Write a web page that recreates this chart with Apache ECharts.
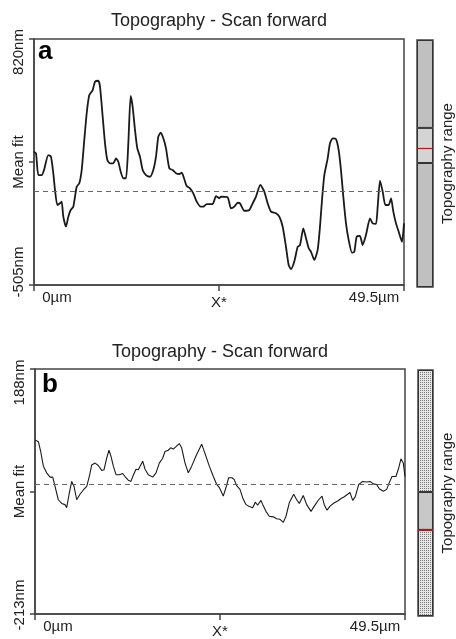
<!DOCTYPE html>
<html>
<head>
<meta charset="utf-8">
<script src="https://cdn.jsdelivr.net/npm/echarts@6/dist/echarts.min.js"></script>
<style>html,body{margin:0;padding:0;background:#fff}#c{width:456px;height:639px}</style>
</head>
<body>
<div id="c"></div>
<script>
// ---- data ----
const chartTitle = 'Topography - Scan forward';
const panelLetters = ['a', 'b'];
const rangeTitle = 'Topography range';
const xTickValues = [0, 24.75, 49.5];
const xTickLabels = ['0µm', 'X*', '49.5µm'];
const topTickValues = [-505, 157.5, 820];
const topTickLabels = ['-505nm', 'Mean fit', '820nm'];
const bottomTickValues = [-213, -12.5, 188];
const bottomTickLabels = ['-213nm', 'Mean fit', '188nm'];
const meanFit = 0;

const topPositions = [0,0.27,0.58,1.03,1.34,1.91,2.27,2.58,2.81,3.12,3.48,3.70,3.92,4.28,4.59,4.91,5.26,5.71,6.06,6.38,6.69,7.05,7.40,7.85,8.16,8.60,8.83,9.19,9.50,9.81,10.17,10.61,10.97,11.28,11.60,11.95,12.31,12.62,12.93,13.20,13.51,13.82,14.18,14.54,14.98,15.52,15.96,16.32,16.63,16.95,17.30,17.66,18.10,18.55,19.00,19.44,19.76,20.07,20.43,20.87,21.31,21.77,22.30,22.66,23.10,23.90,24.35,24.79,25.02,25.91,26.35,26.80,27.25,27.56,28.14,28.81,29.26,29.70,30.28,30.81,31.26,31.71,32.37,32.82,33.27,33.71,34.07,34.38,34.82,35.28,35.59,36.03,36.39,36.75,37.06,37.50,37.95,38.26,38.53,38.84,39.29,39.60,39.96,40.40,40.76,41.07,41.38,41.74,42.10,42.54,42.85,43.17,43.61,43.97,44.41,44.95,45.31,45.75,45.98,46.29,46.65,47.00,47.45,47.77,48.07,48.43,48.79,49.23,49.5];
const topHeights = [213,204,87,87,114,195,186,97,7,-74,-65,-56,-137,-191,-137,-101,-83,24,43,114,258,420,518,545,590,595,563,401,258,168,150,150,177,159,105,70,70,258,513,455,330,231,186,114,87,78,114,186,294,315,285,231,124,114,97,93,100,70,28,16,-11,-56,-83,-83,-69,-69,-26,-38,-29,-33,-92,-83,-62,-65,-105,-101,-65,-29,34,-2,-65,-110,-119,-137,-191,-299,-397,-420,-379,-299,-290,-200,-253,-307,-326,-370,-316,-191,-47,87,177,258,285,281,222,114,-29,-173,-263,-331,-326,-245,-241,-290,-236,-146,-173,-176,-83,57,-2,-74,-74,-38,-110,-173,-218,-272,-173];

const bottomPositions = [0,0.45,0.76,1.12,1.56,2.01,2.37,2.68,3.12,3.57,4.01,4.24,4.59,4.91,5.22,5.58,6.02,6.46,6.92,7.26,7.59,8.03,8.47,8.92,9.23,9.59,9.90,10.17,10.48,10.84,11.28,11.73,12.04,12.48,12.84,13.15,13.51,13.82,14.41,14.72,15.16,15.75,16.19,16.63,17.08,17.39,17.83,18.15,18.50,18.86,19.30,19.62,20.07,20.51,20.96,21.63,22.30,22.74,23.32,23.86,24.31,24.66,24.88,25.19,25.55,25.91,26.35,26.66,26.98,27.42,27.79,28.23,28.67,29.12,29.47,29.79,30.23,30.54,30.90,31.34,31.88,32.33,32.78,33.22,33.58,34.02,34.61,35.01,35.36,35.89,36.35,36.92,37.50,37.95,38.40,38.70,39.06,39.51,40.04,40.50,40.94,41.38,41.83,42.14,42.50,42.85,43.31,43.84,44.38,44.82,45.26,45.71,46.06,46.60,47.05,47.40,47.76,48.29,48.66,48.96,49.27,49.5];
const bottomHeights = [72,69,53,29,18,11,11,-4,-26,-32,-34,-39,-15,4,-4,-26,-17,-10,-4,12,31,34,30,22,23,42,55,45,29,15,15,17,12,6,4,14,24,23,37,24,15,11,18,34,42,53,55,59,57,61,66,59,34,18,29,48,65,50,29,12,-1,-6,-9,-20,-6,10,10,7,-3,-9,-23,-34,-37,-39,-30,-35,-27,-36,-45,-53,-54,-57,-58,-63,-53,-31,-17,-26,-32,-19,-34,-45,-34,-26,-20,-34,-43,-36,-31,-28,-24,-21,-17,-14,-27,-21,-1,4,3,4,0,-1,-8,-12,-9,2,12,12,26,41,34,12];

// range indicator segments (percent of full range, bottom to top)
const topRangeSegments = [50.2, 14.2, 35.6];
const topRangeMarker = 56.3;
const bottomRangeSegments = [35, 15.4, 49.6];
const bottomRangeMarker = 35;

// ---- chart ----
const FONT = "'Liberation Sans', Arial, sans-serif";
const zip = (a, b) => a.map((v, i) => [v, b[i]]);
const pick = (vals, labs) => v => { const i = vals.findIndex(t => Math.abs(t - v) < 1e-6); return i < 0 ? '' : labs[i]; };

const pat = document.createElement('canvas');
pat.width = 2; pat.height = 2;
const pc = pat.getContext('2d');
pc.fillStyle = '#e6e6e6'; pc.fillRect(0, 0, 2, 2);
pc.fillStyle = '#7a7a7a'; pc.fillRect(0, 0, 1, 1);
const dotted = { image: pat, repeat: 'repeat' };

function yLabelFmt(vals, labs) {
  const f = pick(vals, labs);
  return v => {
    const t = f(v);
    if (Math.abs(v - vals[0]) < 1e-6) return '{lo|' + t + '}';
    if (Math.abs(v - vals[2]) < 1e-6) return '{hi|' + t + '}';
    return '{mid|' + t + '}';
  };
}
function xLabelFmt(v) {
  const t = pick(xTickValues, xTickLabels)(v);
  if (Math.abs(v - xTickValues[0]) < 1e-6) return '{l|' + t + '}';
  if (Math.abs(v - xTickValues[2]) < 1e-6) return '{r|' + t + '}';
  return '{m|' + t + '}';
}
const txt = { fontFamily: FONT, fontSize: 15, color: '#222' };
const axisCol = '#444';

function mainX(gi) {
  return {
    type: 'value', gridIndex: gi, min: 0, max: 49.5,
    axisLine: { show: true, onZero: false, lineStyle: { color: axisCol, width: 1.5 } },
    axisTick: { show: true, customValues: xTickValues, length: 6, lineStyle: { color: axisCol, width: 1.5 } },
    axisLabel: {
      show: true, customValues: xTickValues, margin: 5, formatter: xLabelFmt,
      rich: {
        l: Object.assign({}, txt, { padding: [0, 0, 0, 46] }),
        r: Object.assign({}, txt, { padding: [0, 60, 0, 0] }),
        m: Object.assign({}, txt, { padding: [5, 0, 0, 0] })
      }
    },
    splitLine: { show: false }
  };
}
function mainY(gi, min, max, vals, labs, padHi, padLo) {
  return {
    type: 'value', gridIndex: gi, min: min, max: max,
    axisLine: { show: true, onZero: false, lineStyle: { color: axisCol, width: 1.5 } },
    axisTick: { show: true, customValues: vals, length: 5, lineStyle: { color: axisCol, width: 1.5 } },
    axisLabel: {
      show: true, customValues: vals, rotate: 90, margin: 8, formatter: yLabelFmt(vals, labs),
      rich: {
        hi: Object.assign({}, txt, { padding: [0, padHi, 0, 0] }),
        lo: Object.assign({}, txt, { padding: [0, 0, 0, padLo] }),
        mid: Object.assign({}, txt)
      }
    },
    splitLine: { show: false }
  };
}
function rangeY(gi) {
  return {
    type: 'value', gridIndex: gi, min: 0, max: 100, position: 'right',
    name: rangeTitle, nameLocation: 'middle', nameGap: 7,
    nameTextStyle: { fontFamily: FONT, fontSize: 15, color: '#222' },
    axisLine: { show: false }, axisTick: { show: false }, axisLabel: { show: false }, splitLine: { show: false }
  };
}
function rangeX(gi) {
  return { type: 'category', gridIndex: gi, data: ['r'], show: false };
}
function seg(gi, val, color, marker) {
  const s = {
    type: 'bar', xAxisIndex: gi, yAxisIndex: gi, stack: 'r' + gi, data: [val],
    barWidth: '100%', silent: true,
    itemStyle: { color: color, borderColor: '#333', borderWidth: 1 }
  };
  if (marker != null) {
    s.markLine = { silent: true, symbol: 'none', label: { show: false },
      lineStyle: { color: '#e00000', width: 1.2, type: 'solid' }, data: [{ yAxis: marker }] };
  }
  return s;
}
const meanLine = {
  silent: true, symbol: 'none', label: { show: false },
  lineStyle: { color: '#666', width: 1, type: [5, 4] }, data: [{ yAxis: meanFit }]
};

const chart = echarts.init(document.getElementById('c'), null, { renderer: 'canvas' });
chart.setOption({
  animation: false,
  backgroundColor: '#fff',
  title: [
    { text: chartTitle, left: 219, top: 12, textAlign: 'center', padding: 0,
      textStyle: { fontFamily: FONT, fontSize: 18, fontWeight: 'normal', color: '#222' } },
    { text: panelLetters[0], left: 38, top: 39, padding: 0,
      textStyle: { fontFamily: FONT, fontSize: 26, fontWeight: 'bold', color: '#000' } },
    { text: chartTitle, left: 220, top: 343, textAlign: 'center', padding: 0,
      textStyle: { fontFamily: FONT, fontSize: 18, fontWeight: 'normal', color: '#222' } },
    { text: panelLetters[1], left: 42, top: 372, padding: 0,
      textStyle: { fontFamily: FONT, fontSize: 26, fontWeight: 'bold', color: '#000' } }
  ],
  grid: [
    { left: 34, top: 39, width: 370, height: 246, show: true, borderColor: '#444', borderWidth: 1.5 },
    { left: 35, top: 369, width: 370, height: 246, show: true, borderColor: '#444', borderWidth: 1.5 },
    { left: 417, top: 40, width: 18, height: 247, show: true, borderColor: '#444', borderWidth: 1.5 },
    { left: 418, top: 370, width: 18, height: 246, show: true, borderColor: '#444', borderWidth: 1.5 }
  ],
  xAxis: [mainX(0), mainX(1), rangeX(2), rangeX(3)],
  yAxis: [
    mainY(0, topTickValues[0], topTickValues[2], topTickValues, topTickLabels, 26, 26),
    mainY(1, bottomTickValues[0], bottomTickValues[2], bottomTickValues, bottomTickLabels, 27, 18),
    rangeY(2), rangeY(3)
  ],
  series: [
    { type: 'line', xAxisIndex: 0, yAxisIndex: 0, data: zip(topPositions, topHeights),
      showSymbol: false, smooth: 0.2, silent: true,
      lineStyle: { color: '#1a1a1a', width: 1.8 }, markLine: meanLine },
    { type: 'line', xAxisIndex: 1, yAxisIndex: 1, data: zip(bottomPositions, bottomHeights),
      showSymbol: false, silent: true,
      lineStyle: { color: '#1a1a1a', width: 1.1 }, markLine: meanLine },
    seg(2, topRangeSegments[0], '#c0c0c0'),
    seg(2, topRangeSegments[1], '#d4d4d4', topRangeMarker),
    seg(2, topRangeSegments[2], '#c0c0c0'),
    seg(3, bottomRangeSegments[0], dotted, bottomRangeMarker),
    seg(3, bottomRangeSegments[1], '#c8c8c8'),
    seg(3, bottomRangeSegments[2], dotted)
  ]
});
</script>
</body>
</html>
